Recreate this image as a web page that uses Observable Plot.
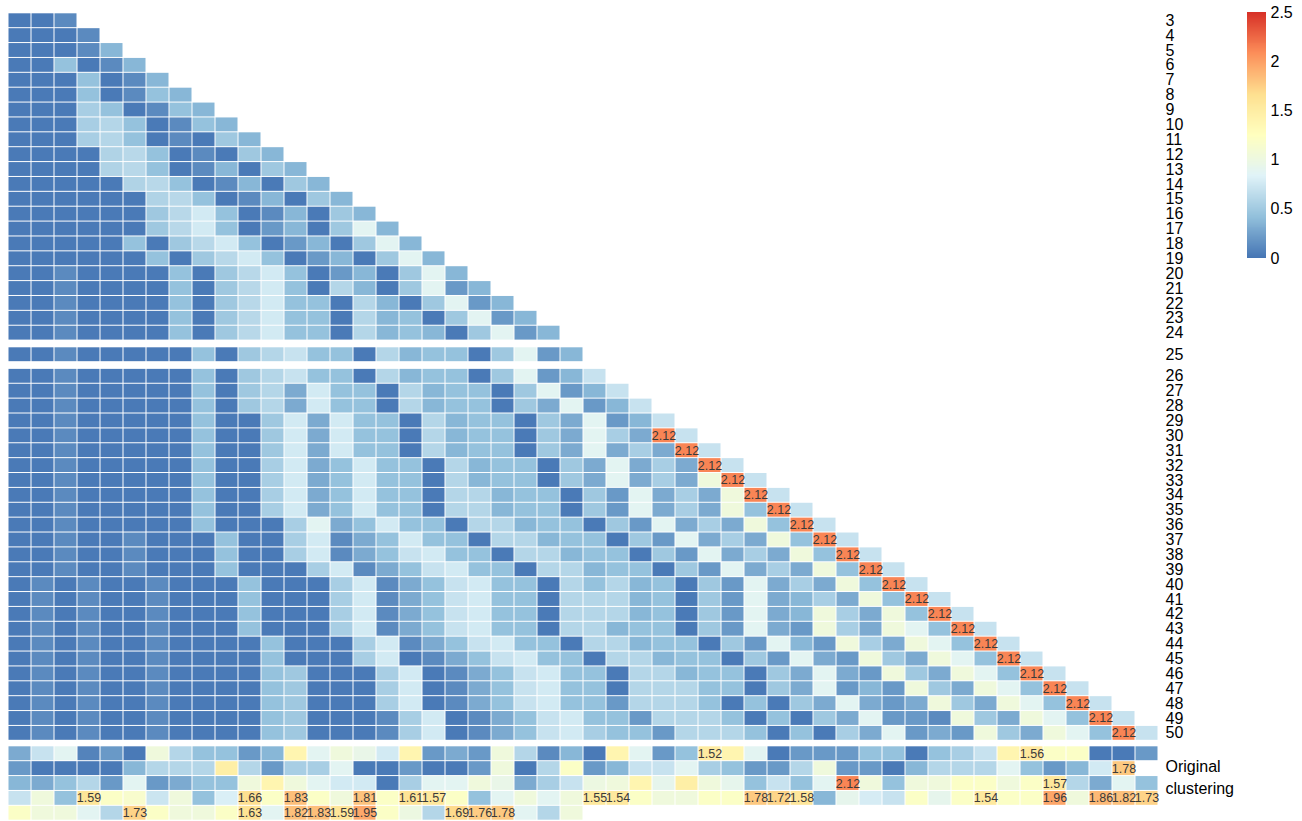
<!DOCTYPE html>
<html><head><meta charset="utf-8">
<script src="https://cdn.jsdelivr.net/npm/d3@7"></script>
<script src="https://cdn.jsdelivr.net/npm/@observablehq/plot@0.6"></script>
<style>
body{margin:0;background:#fff;}
#wrap{position:relative;width:1302px;height:821px;overflow:hidden;}
#chart{position:absolute;left:0;top:0;}
#legend{position:absolute;left:1240px;top:0;}
</style>
</head><body><div id="wrap"><div id="chart"></div><div id="legend"></div></div>
<script>
const rowLabels = [3,4,5,6,7,8,9,10,11,12,13,14,15,16,17,18,19,20,21,22,23,24,25,26,27,28,29,30,31,32,33,34,35,36,37,38,39,40,41,42,43,44,45,46,47,48,49,50];
const originalLabels = ["Original","clustering"];
const legendTicks = [0,0.5,1,1.5,2,2.5];

const triangleValues = [
[.03,.03,.12],
[.03,.03,.03,.12],
[.03,.03,.03,.12,.37],
[.03,.03,.44,.03,.12,.37],
[.03,.03,.03,.44,.03,.12,.37],
[.03,.03,.03,.44,.03,.12,.44,.37],
[.03,.03,.03,.54,.44,.03,.12,.44,.37],
[.03,.03,.03,.54,.6,.44,.03,.12,.44,.37],
[.03,.03,.03,.54,.6,.44,.03,.12,.03,.49,.37],
[.03,.03,.03,.03,.58,.62,.44,.03,.12,.03,.49,.37],
[.03,.03,.03,.03,.58,.62,.44,.03,.12,.37,.03,.49,.37],
[.03,.03,.03,.03,.03,.58,.62,.44,.03,.12,.37,.03,.49,.37],
[.03,.03,.03,.03,.03,.03,.58,.62,.44,.03,.12,.37,.03,.49,.37],
[.03,.03,.03,.03,.03,.03,.49,.62,.76,.44,.03,.12,.37,.03,.49,.37],
[.03,.03,.03,.03,.03,.03,.49,.62,.76,.44,.03,.2,.37,.03,.49,.88,.37],
[.03,.03,.03,.03,.03,.44,.03,.49,.62,.76,.44,.03,.2,.37,.03,.49,.88,.37],
[.03,.03,.03,.03,.03,.03,.44,.03,.49,.62,.76,.44,.03,.2,.37,.03,.49,.88,.37],
[.03,.03,.12,.03,.03,.03,.03,.44,.03,.49,.62,.76,.44,.03,.2,.37,.03,.49,.88,.37],
[.03,.03,.12,.03,.03,.03,.03,.44,.03,.49,.62,.76,.44,.03,.6,.37,.03,.49,.88,.2,.37],
[.03,.03,.12,.03,.03,.03,.03,.44,.03,.49,.62,.76,.44,.44,.03,.6,.37,.03,.49,.88,.2,.37],
[.03,.03,.12,.03,.03,.03,.03,.44,.03,.49,.62,.76,.44,.44,.03,.6,.37,.44,.03,.49,.88,.2,.37],
[.03,.03,.12,.03,.03,.03,.03,.44,.03,.49,.62,.76,.44,.44,.03,.6,.37,.44,.37,.03,.49,.88,.2,.37],
[.03,.03,.12,.03,.03,.03,.03,.03,.44,.03,.49,.6,.7,.44,.44,.03,.6,.37,.44,.44,.03,.49,.88,.2,.37],
[.03,.03,.12,.03,.03,.03,.03,.03,.44,.03,.49,.6,.7,.44,.44,.03,.6,.37,.44,.44,.03,.49,.88,.2,.37,.7],
[.03,.03,.12,.03,.03,.03,.03,.03,.44,.03,.49,.6,.3,.76,.44,.44,.03,.6,.37,.44,.44,.03,.49,.88,.2,.37,.7],
[.03,.03,.12,.03,.03,.03,.03,.03,.44,.03,.49,.6,.3,.76,.44,.44,.03,.6,.37,.44,.44,.03,.49,.3,.88,.2,.37,.7],
[.03,.03,.12,.03,.03,.03,.03,.03,.44,.03,.03,.49,.76,.3,.76,.44,.44,.03,.6,.37,.44,.44,.03,.49,.3,.88,.2,.37,.7],
[.03,.03,.12,.03,.03,.03,.03,.03,.44,.03,.03,.49,.76,.3,.76,.44,.44,.03,.6,.37,.44,.44,.03,.49,.3,.88,.54,.3,2.12,.7],
[.03,.03,.12,.03,.03,.03,.03,.03,.44,.03,.03,.49,.76,.3,.76,.44,.44,.03,.6,.37,.44,.44,.03,.49,.3,.88,.3,.54,.3,2.12,.7],
[.03,.03,.12,.03,.03,.03,.03,.03,.44,.03,.03,.54,.76,.3,.44,.76,.44,.44,.03,.6,.37,.44,.44,.03,.49,.3,.88,.3,.54,.3,2.12,.7],
[.03,.03,.12,.03,.03,.03,.03,.03,.44,.03,.03,.54,.76,.3,.44,.76,.44,.44,.03,.6,.37,.44,.44,.03,.49,.3,.88,.3,.54,.3,1.04,2.12,.7],
[.03,.03,.12,.03,.03,.03,.03,.03,.44,.03,.03,.54,.76,.3,.44,.76,.44,.44,.03,.6,.6,.37,.44,.44,.03,.49,.2,.88,.3,.54,.3,1.04,2.12,.7],
[.03,.03,.12,.03,.03,.03,.03,.03,.44,.03,.03,.54,.76,.3,.44,.76,.44,.44,.03,.6,.6,.37,.44,.44,.03,.49,.2,.88,.3,.54,.3,1.04,.44,2.12,.7],
[.03,.03,.12,.03,.03,.03,.03,.03,.44,.03,.03,.03,.54,.88,.3,.44,.76,.44,.44,.03,.6,.6,.37,.44,.44,.03,.49,.2,.88,.3,.54,.3,1.04,.44,2.12,.7],
[.03,.03,.12,.03,.03,.12,.03,.03,.03,.44,.03,.03,.54,.76,.12,.3,.44,.76,.44,.44,.03,.6,.6,.37,.44,.44,.03,.49,.2,.88,.3,.54,.3,1.04,.44,2.12,.7],
[.03,.03,.12,.03,.03,.12,.03,.03,.03,.44,.03,.03,.54,.76,.12,.3,.44,.7,.76,.44,.44,.03,.6,.6,.37,.44,.44,.03,.49,.2,.88,.3,.54,.3,1.04,.44,2.12,.7],
[.03,.03,.12,.03,.03,.12,.03,.03,.03,.44,.03,.03,.03,.54,.76,.12,.3,.44,.7,.76,.44,.44,.03,.6,.6,.37,.44,.44,.03,.49,.2,.88,.3,.54,.3,1.04,.44,2.12,.7],
[.03,.12,.03,.12,.03,.03,.12,.03,.03,.03,.44,.03,.03,.03,.54,.76,.12,.3,.44,.7,.76,.44,.44,.03,.6,.44,.6,.37,.44,.03,.49,.2,.88,.3,.54,.3,1.04,.44,2.12,.7],
[.03,.12,.03,.12,.03,.03,.12,.03,.03,.03,.44,.03,.03,.03,.54,.76,.12,.3,.44,.7,.76,.44,.44,.03,.6,.6,.6,.37,.44,.03,.49,.2,.88,.3,.37,.54,.3,1.04,.44,2.12,.7],
[.03,.12,.03,.12,.03,.03,.12,.03,.03,.03,.44,.03,.03,.03,.54,.76,.12,.3,.44,.7,.76,.44,.44,.03,.6,.6,.6,.37,.44,.03,.49,.2,.88,.3,.37,1.04,.54,.3,1.04,.44,2.12,.7],
[.03,.12,.03,.12,.03,.03,.12,.03,.03,.03,.44,.03,.03,.03,.54,.76,.12,.3,.44,.7,.76,.44,.44,.03,.6,.6,.37,.44,.44,.03,.49,.2,.88,.3,.2,1.04,.54,.3,1.04,.88,.44,2.12,.7],
[.03,.12,.03,.12,.03,.03,.12,.03,.03,.03,.03,.44,.03,.03,.03,.54,.76,.12,.3,.44,.7,.76,.44,.44,.03,.6,.6,.37,.44,.44,.03,.49,.2,.88,.37,.2,1.04,.54,.3,1.04,.88,.44,2.12,.7],
[.03,.12,.03,.12,.03,.03,.12,.03,.03,.03,.03,.44,.03,.03,.03,.54,.76,.03,.12,.3,.44,.7,.76,.44,.44,.03,.6,.6,.37,.44,.44,.03,.49,.2,.88,.3,.2,1.04,.49,.3,1.04,.88,.44,2.12,.7],
[.03,.12,.03,.12,.03,.03,.12,.03,.03,.03,.03,.44,.49,.03,.03,.03,.54,.76,.03,.12,.3,.44,.7,.76,.44,.44,.03,.6,.6,.37,.44,.44,.03,.49,.3,.88,.3,.2,1.04,.49,.3,1.04,.88,.44,2.12,.7],
[.03,.12,.03,.12,.03,.03,.12,.03,.03,.03,.03,.44,.49,.03,.03,.03,.54,.76,.03,.12,.3,.44,.7,.76,.44,.44,.03,.6,.6,.6,.44,.44,.03,.49,.3,.88,.2,.37,.2,1.04,.49,.3,1.04,.88,.44,2.12,.7],
[.03,.12,.03,.12,.03,.03,.12,.03,.03,.03,.03,.44,.49,.03,.03,.03,.54,.76,.03,.12,.3,.44,.7,.76,.44,.44,.2,.6,.6,.6,.44,.03,.44,.03,.49,.3,.88,.3,.2,.3,1.04,.49,.3,1.04,.88,.44,2.12,.7],
[.03,.12,.03,.12,.03,.03,.12,.03,.03,.03,.03,.44,.49,.03,.03,.03,.12,.54,.76,.03,.12,.3,.44,.7,.76,.44,.44,.2,.6,.6,.6,.44,.03,.44,.03,.49,.3,.88,.2,.2,.12,1.04,.49,.3,1.04,.88,.44,2.12,.7],
[.03,.12,.03,.12,.03,.03,.12,.03,.03,.03,.03,.44,.49,.03,.03,.03,.12,.54,.76,.03,.12,.3,.44,.7,.76,.54,.44,.44,.2,.6,.6,.6,.44,.03,.44,.03,.54,.3,.88,.2,.3,.2,1.04,.49,.3,1.04,.88,.44,2.12,.7]
];

const originalValues = [
[.3,.7,.88,.08,.2,.03,1.04,.6,.44,.44,.2,.37,1.38,.88,1.04,.95,.76,1.38,.2,.3,.2,1.04,.6,.12,.37,.03,1.38,.88,.2,.44,1.52,1.38,.88,.03,.2,.2,.2,.44,.44,.03,.44,.54,.7,1.38,1.56,1.2,1.2,.03,.03,.2],
[.2,.03,.03,.03,.03,.37,.6,.6,.6,1.47,.6,.2,.54,.54,.88,.03,.03,.2,.03,.03,.2,1.04,.03,.6,1.2,.2,.37,.7,.7,.88,.54,.44,.2,.2,.6,1.04,.2,.2,.03,.37,.6,.6,.6,.88,.44,.2,.37,.76,1.78,null],
[.37,.3,.44,.6,.2,.88,.2,.3,.44,.44,1.04,1.38,1.04,.88,.76,.76,.03,.54,.88,.88,1.04,.95,.3,.54,.7,1.0,1.04,1.38,.92,1.47,1.04,.92,.44,.7,.44,.88,2.12,1.04,.44,1.04,1.04,1.2,1.2,1.04,1.2,1.57,.6,.3,.88,.44],
[.7,1.04,.44,1.59,1.2,1.15,.72,1.04,.44,.8,1.66,1.2,1.83,1.2,1.04,1.81,1.2,1.61,1.57,1.2,.44,.88,1.04,.88,1.04,1.55,1.54,1.2,1.04,1.04,1.2,1.2,1.78,1.72,1.58,.37,.92,.78,.7,1.2,.92,1.2,1.54,1.2,1.2,1.96,1.04,1.86,1.82,1.73],
[1.2,1.04,1.04,.88,.6,1.73,1.2,1.04,1.04,1.2,1.63,.88,1.82,1.83,1.59,1.95,1.2,1.0,.6,1.69,1.76,1.78,.88,.6,1.04]
];

// layout (in row units)
const gapMid = 0.45, gapBottom = 0.37;
const cells = [], rowPos = [];
let pos = 0;
triangleValues.forEach((vals, k) => {
  const label = rowLabels[k];
  if (label === 25 || label === 26) pos += gapMid;
  vals.forEach((v, j) => cells.push({col: j, top: pos, v}));
  rowPos.push({label: String(label), top: pos});
  pos += 1;
});
pos += gapBottom;
const origTop = pos;
originalValues.forEach(vals => {
  vals.forEach((v, j) => { if (v != null) cells.push({col: j, top: pos, v}); });
  pos += 1;
});
const total = pos;
const origText = [{t: originalLabels[0], y: origTop + 1.5}, {t: originalLabels[1], y: origTop + 3.0}];

const fontFamily = "'Liberation Sans', Arial, Helvetica, sans-serif";
const colorScale = {
  type: "linear",
  domain: [0, 0.4167, 0.8333, 1.25, 1.6667, 2.0833, 2.5],
  range: ["#4575b4","#91bfdb","#e0f3f8","#ffffbf","#fee090","#fc8d59","#d73027"],
  clamp: true
};
const fmt = d3.format(".2f");

const chart = Plot.plot({
  width: 1302, height: 821,
  marginLeft: 8, marginRight: 144, marginTop: 0, marginBottom: 0,
  style: {fontFamily, background: "white"},
  x: {domain: [0, 50], range: [8, 1158], axis: null},
  y: {domain: [0, total], range: [12.8, 820.2], axis: null},
  color: colorScale,
  marks: [
    Plot.rect(cells, {x1: d => d.col, x2: d => d.col + 1, y1: d => d.top, y2: d => d.top + 1, fill: "v", inset: 0.5}),
    Plot.text(cells.filter(d => d.v >= 1.5), {x: d => d.col + 0.5, y: d => d.top + 0.5, text: d => fmt(d.v), fill: "#3a3a3a", fontSize: 12.5}),
    Plot.text(rowPos, {x: 50, y: d => d.top + 0.5, text: "label", textAnchor: "start", dx: 7, fontSize: 16, fill: "black"}),
    Plot.text(origText, {x: 50, y: "y", text: "t", textAnchor: "start", dx: 7, dy: -2, fontSize: 16, fill: "black"})
  ]
});
document.getElementById("chart").appendChild(chart);

const legendSteps = d3.range(0, 2.5, 0.01);
const legend = Plot.plot({
  width: 62, height: 270,
  marginLeft: 7, marginRight: 36, marginTop: 12, marginBottom: 12,
  style: {fontFamily, background: "transparent"},
  x: {domain: [0, 1], axis: null},
  y: {domain: [0, 2.5], axis: null},
  color: colorScale,
  marks: [
    Plot.rect(legendSteps, {x1: 0, x2: 1, y1: d => d, y2: d => d + 0.012, fill: d => d + 0.005, shapeRendering: "crispEdges"}),
    Plot.axisY(legendTicks, {anchor: "right", tickSize: 0, tickPadding: 4, tickFormat: d => String(d), fontSize: 16, fill: "black"})
  ]
});
document.getElementById("legend").appendChild(legend);
</script>
</body></html>
